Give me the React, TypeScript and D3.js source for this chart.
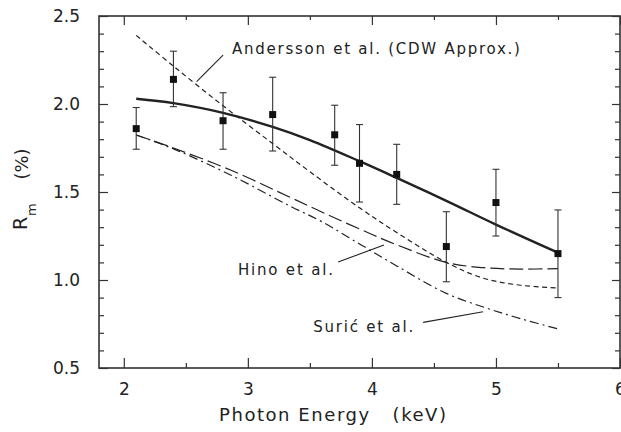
import React, { useEffect, useRef } from "react";
import * as d3 from "d3";

// measured points (keV, %)
const energies = [2.1, 2.4, 2.8, 3.2, 3.7, 3.9, 4.2, 4.6, 5.0, 5.5];
const rm = [1.86, 2.14, 1.905, 1.94, 1.825, 1.663, 1.6, 1.19, 1.44, 1.15];
const errLow = [1.743, 1.985, 1.743, 1.733, 1.652, 1.443, 1.43, 0.99, 1.25, 0.9];
const errHigh = [1.98, 2.3, 2.064, 2.152, 1.993, 1.883, 1.771, 1.388, 1.629, 1.398];

// solid fit curve
const fitE = [2.1, 2.4, 2.8, 3.2, 3.5, 3.9, 4.2, 4.6, 5.0, 5.5];
const fitR = [2.03, 2.005, 1.95, 1.87, 1.795, 1.675, 1.58, 1.45, 1.315, 1.155];

// Andersson et al. (CDW Approx.)
const anderssonE = [2.1, 2.4, 2.8, 3.2, 3.5, 3.9, 4.2, 4.6, 4.9, 5.2, 5.5];
const anderssonR = [2.39, 2.215, 1.99, 1.775, 1.615, 1.41, 1.27, 1.1, 1.01, 0.97, 0.955];

// Hino et al.
const hinoE = [2.1, 2.4, 2.86, 3.34, 3.6, 3.9, 4.2, 4.6, 4.9, 5.2, 5.5];
const hinoR = [1.824, 1.75, 1.625, 1.47, 1.385, 1.29, 1.2, 1.1, 1.07, 1.062, 1.065];

// Surić et al.
const suricE = [2.1, 2.4, 2.86, 3.34, 3.6, 3.9, 4.2, 4.6, 4.93, 5.2, 5.5];
const suricR = [1.824, 1.745, 1.597, 1.42, 1.33, 1.205, 1.08, 0.924, 0.839, 0.78, 0.722];

const xMajor = [2, 3, 4, 5, 6];
const xMinor = [2.5, 3.5, 4.5, 5.5];
const yMajor = [0.5, 1.0, 1.5, 2.0, 2.5];
const yMinor = d3.range(6, 25).map(d => d / 10).filter(d => Math.round(d * 10) % 5 !== 0);

const App = () => {
  const ref = useRef<SVGSVGElement>(null);

  useEffect(() => {
    const svg = d3.select(ref.current);
    svg.selectAll("*").remove();

    const left = 99, right = 620, top = 16, bottom = 368;
    const ink = "#222";
    const font = "DejaVu Sans, sans-serif";

    const x = d3.scaleLinear().domain([1.8, 6]).range([left, right]);
    const y = d3.scaleLinear().domain([0.5, 2.5]).range([bottom, top]);

    // frame
    svg.append("rect")
      .attr("x", left).attr("y", top)
      .attr("width", right - left).attr("height", bottom - top)
      .attr("fill", "none").attr("stroke", "#333").attr("stroke-width", 1.6);

    const tickStyle = (g: any) => {
      g.select(".domain").remove();
      g.selectAll("line").attr("stroke", "#333").attr("stroke-width", 1.2);
      g.selectAll("text").attr("font-family", font).attr("font-size", 17).attr("fill", ink);
    };

    // bottom
    svg.append("g").attr("transform", `translate(0,${bottom})`)
      .call(d3.axisBottom(x).tickValues(xMajor).tickFormat(d3.format("d")).tickSizeInner(-10).tickSizeOuter(0).tickPadding(15))
      .call(tickStyle);
    svg.append("g").attr("transform", `translate(0,${bottom})`)
      .call(d3.axisBottom(x).tickValues(xMinor).tickFormat(() => "").tickSizeInner(-5).tickSizeOuter(0))
      .call(tickStyle);
    // top
    svg.append("g").attr("transform", `translate(0,${top})`)
      .call(d3.axisTop(x).tickValues(xMajor).tickFormat(() => "").tickSizeInner(-9).tickSizeOuter(0))
      .call(tickStyle);
    svg.append("g").attr("transform", `translate(0,${top})`)
      .call(d3.axisTop(x).tickValues(xMinor).tickFormat(() => "").tickSizeInner(-4).tickSizeOuter(0))
      .call(tickStyle);
    // left
    svg.append("g").attr("transform", `translate(${left},0)`)
      .call(d3.axisLeft(y).tickValues(yMajor).tickFormat(d3.format(".1f")).tickSizeInner(-9).tickSizeOuter(0).tickPadding(19))
      .call(tickStyle);
    svg.append("g").attr("transform", `translate(${left},0)`)
      .call(d3.axisLeft(y).tickValues(yMinor).tickFormat(() => "").tickSizeInner(-5).tickSizeOuter(0))
      .call(tickStyle);
    // right
    svg.append("g").attr("transform", `translate(${right},0)`)
      .call(d3.axisRight(y).tickValues(yMajor).tickFormat(() => "").tickSizeInner(-8).tickSizeOuter(0))
      .call(tickStyle);
    svg.append("g").attr("transform", `translate(${right},0)`)
      .call(d3.axisRight(y).tickValues(yMinor).tickFormat(() => "").tickSizeInner(-5).tickSizeOuter(0))
      .call(tickStyle);

    // curves
    const line = d3.line<[number, number]>()
      .x(d => x(d[0])).y(d => y(d[1]))
      .curve(d3.curveCatmullRom.alpha(0.5));
    const zip = (a: number[], b: number[]) => a.map((v, i) => [v, b[i]] as [number, number]);

    const curves = [
      { e: anderssonE, r: anderssonR, w: 1.2, dash: "5,3.5" },
      { e: hinoE, r: hinoR, w: 1.2, dash: "14,5" },
      { e: suricE, r: suricR, w: 1.2, dash: "9,4,2,4" },
      { e: fitE, r: fitR, w: 2.4, dash: null },
    ];
    svg.append("g").selectAll("path")
      .data(curves)
      .join("path")
        .attr("d", c => line(zip(c.e, c.r)))
        .attr("fill", "none")
        .attr("stroke", ink)
        .attr("stroke-width", c => c.w)
        .attr("stroke-dasharray", c => c.dash);

    // error bars
    const pts = energies.map((e, i) => ({ e, r: rm[i], lo: errLow[i], hi: errHigh[i] }));
    const eb = svg.append("g").attr("stroke", "#333").attr("stroke-width", 1.1);
    eb.selectAll(".v").data(pts).join("line").attr("class", "v")
      .attr("x1", d => x(d.e)).attr("x2", d => x(d.e))
      .attr("y1", d => y(d.lo)).attr("y2", d => y(d.hi));
    eb.selectAll(".ct").data(pts).join("line").attr("class", "ct")
      .attr("x1", d => x(d.e) - 3.5).attr("x2", d => x(d.e) + 3.5)
      .attr("y1", d => y(d.hi)).attr("y2", d => y(d.hi));
    eb.selectAll(".cb").data(pts).join("line").attr("class", "cb")
      .attr("x1", d => x(d.e) - 3.5).attr("x2", d => x(d.e) + 3.5)
      .attr("y1", d => y(d.lo)).attr("y2", d => y(d.lo));

    svg.append("g").attr("fill", "#111").selectAll("rect")
      .data(pts)
      .join("rect")
        .attr("x", d => x(d.e) - 3.5)
        .attr("y", d => y(d.r) - 3.5)
        .attr("width", 7).attr("height", 7);

    // annotations (data units)
    const notes = [
      { text: "Andersson et al. (CDW Approx.)", tx: 2.872, ty: 2.284, len: 288, l: [2.8, 2.278, 2.587, 2.127] },
      { text: "Hino et al.", tx: 2.92, ty: 1.028, len: 95, l: [3.728, 1.102, 4.097, 1.199] },
      { text: "Surić et al.", tx: 3.527, ty: 0.706, len: 100, l: [4.413, 0.759, 4.897, 0.82] },
    ];
    svg.append("g").selectAll("text").data(notes).join("text")
      .attr("x", d => x(d.tx)).attr("y", d => y(d.ty))
      .attr("font-family", font).attr("font-size", 15).attr("fill", ink)
      .attr("textLength", d => d.len).attr("lengthAdjust", "spacing")
      .text(d => d.text);
    svg.append("g").attr("stroke", ink).attr("stroke-width", 1.1)
      .selectAll("line").data(notes).join("line")
        .attr("x1", d => x(d.l[0])).attr("y1", d => y(d.l[1]))
        .attr("x2", d => x(d.l[2])).attr("y2", d => y(d.l[3]));

    // axis titles
    svg.append("text")
      .attr("x", 219).attr("y", 421)
      .attr("font-family", font).attr("font-size", 18).attr("fill", ink)
      .attr("textLength", 227).attr("lengthAdjust", "spacing")
      .attr("xml:space", "preserve")
      .text("Photon Energy   (keV)");

    svg.append("text")
      .attr("transform", "translate(27,230) rotate(-90)")
      .attr("font-family", font).attr("font-size", 19).attr("fill", ink)
      .text("R");
    svg.append("text")
      .attr("transform", "translate(36,216) rotate(-90)")
      .attr("font-family", font).attr("font-size", 13).attr("fill", ink)
      .text("m");
    svg.append("text")
      .attr("transform", "translate(28,164) rotate(-90)")
      .attr("text-anchor", "middle")
      .attr("font-family", font).attr("font-size", 18).attr("fill", ink)
      .text("(%)");
  }, []);

  return (
    <svg ref={ref} width={621} height={432}
      style={{ position: "absolute", left: 0, top: 0, background: "#fff" }}></svg>
  );
};

export default App;
